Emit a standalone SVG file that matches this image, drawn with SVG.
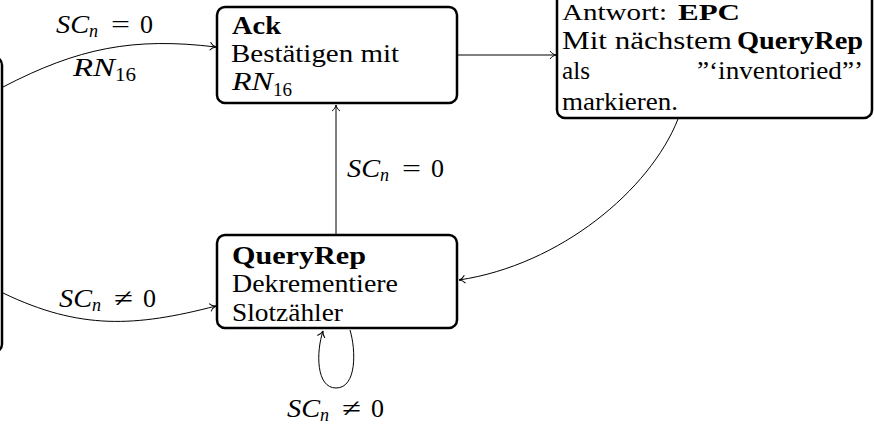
<svg xmlns="http://www.w3.org/2000/svg" width="874" height="426" viewBox="0 0 874 426">
<style>
text{font-family:"Liberation Serif","DejaVu Serif",serif;font-size:26px;fill:#000}
.b{font-weight:bold}
.i{font-style:italic}
.sub{font-size:18px}
.box{fill:#fff;stroke:#000;stroke-width:2.5}
.edge{fill:none;stroke:#000;stroke-width:1}
</style>
<defs>
<marker id="arr" markerUnits="userSpaceOnUse" markerWidth="14" markerHeight="14" viewBox="-8 -7 10 14" refX="0" refY="0" orient="auto">
<path d="M-6,-4 C-4.5,-1.8 -2,-0.4 0,0 C-2,0.4 -4.5,1.8 -6,4" fill="none" stroke="#000" stroke-width="1"/>
</marker>
</defs>
<rect width="874" height="426" fill="#fff"/>
<g id="connectors">
<path class="edge" d="M3,87 C78,48 133,37 216,47" marker-end="url(#arr)"/>
<path class="edge" d="M458,55 L556,55" marker-end="url(#arr)"/>
<path class="edge" d="M336,234 L336,105" marker-end="url(#arr)"/>
<path class="edge" d="M678,119 C650,190 560,265 459,280" marker-end="url(#arr)"/>
<path class="edge" d="M3,293 C80,330 135,327 216,306" marker-end="url(#arr)"/>
<path class="edge" d="M350,330 C356,350 357,388 336,388 C316,388 316,352 323,331" marker-end="url(#arr)"/>
</g>
<g id="labels">
<g id="l1"><text class="i" x="56" y="33" textLength="33" lengthAdjust="spacingAndGlyphs">SC</text><text class="i sub" x="89" y="37">n</text><text x="111" y="33" textLength="19" lengthAdjust="spacingAndGlyphs">=</text><text x="140" y="33">0</text></g>
<g id="l1b"><text class="i" x="73" y="76" textLength="42" lengthAdjust="spacingAndGlyphs">RN</text><text class="sub" x="115" y="81" textLength="21" lengthAdjust="spacingAndGlyphs">16</text></g>
<g id="l3"><text class="i" x="347" y="177" textLength="33" lengthAdjust="spacingAndGlyphs">SC</text><text class="i sub" x="380" y="181">n</text><text x="402" y="177" textLength="19" lengthAdjust="spacingAndGlyphs">=</text><text x="431" y="177">0</text></g>
<g id="l5"><text class="i" x="59" y="307" textLength="33" lengthAdjust="spacingAndGlyphs">SC</text><text class="i sub" x="92" y="311">n</text><text x="114" y="307" textLength="19" lengthAdjust="spacingAndGlyphs">≠</text><text x="143" y="307">0</text></g>
<g id="l6"><text class="i" x="287" y="417" textLength="33" lengthAdjust="spacingAndGlyphs">SC</text><text class="i sub" x="320" y="421">n</text><text x="342" y="417" textLength="19" lengthAdjust="spacingAndGlyphs">≠</text><text x="371" y="417">0</text></g>
</g>
<g id="node-left">
<rect class="box" x="-300" y="57" width="302" height="295" rx="8"/>
</g>
<g id="node-ack">
<rect class="box" x="217" y="7" width="240" height="96" rx="8"/>
<text class="b" x="232" y="34" textLength="49" lengthAdjust="spacingAndGlyphs">Ack</text>
<text x="231" y="62" textLength="168" lengthAdjust="spacingAndGlyphs">Bestätigen mit</text>
<text class="i" x="232" y="90" textLength="41" lengthAdjust="spacingAndGlyphs">RN</text><text class="sub" x="273" y="96" textLength="19" lengthAdjust="spacingAndGlyphs">16</text>
</g>
<g id="node-epc">
<rect class="box" x="557" y="-8" width="315" height="126" rx="8"/>
<text x="562" y="20" style="font-size:23px" textLength="105" lengthAdjust="spacingAndGlyphs">Antwort:</text>
<text class="b" x="678" y="20" style="font-size:23px" textLength="62" lengthAdjust="spacingAndGlyphs">EPC</text>
<text x="562" y="49" textLength="170" lengthAdjust="spacingAndGlyphs">Mit nächstem</text>
<text class="b" x="737" y="49" textLength="126" lengthAdjust="spacingAndGlyphs">QueryRep</text>
<text x="562" y="79" textLength="28" lengthAdjust="spacingAndGlyphs">als</text>
<text x="697" y="79" textLength="166" lengthAdjust="spacingAndGlyphs">”‘inventoried”’</text>
<text x="562" y="110" textLength="116" lengthAdjust="spacingAndGlyphs">markieren.</text>
</g>
<g id="node-queryrep">
<rect class="box" x="217" y="235" width="240" height="93" rx="8"/>
<text class="b" x="232" y="264" textLength="134" lengthAdjust="spacingAndGlyphs">QueryRep</text>
<text x="232" y="292" textLength="166" lengthAdjust="spacingAndGlyphs">Dekrementiere</text>
<text x="232" y="321" textLength="111" lengthAdjust="spacingAndGlyphs">Slotzähler</text>
</g>
</svg>
